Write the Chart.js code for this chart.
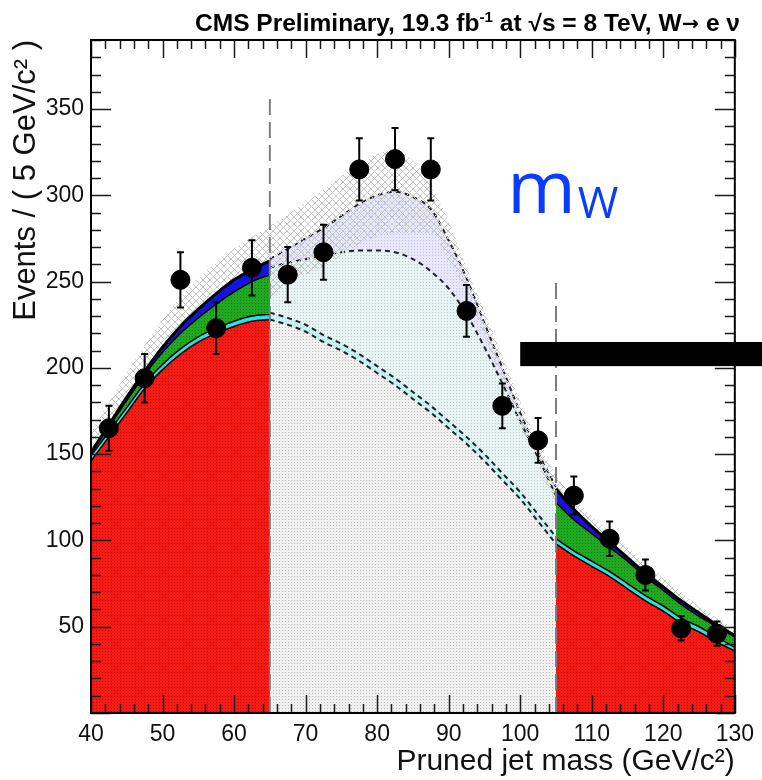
<!DOCTYPE html>
<html>
<head>
<meta charset="utf-8">
<script src="https://cdn.jsdelivr.net/npm/chart.js@4.4.1/dist/chart.umd.min.js"></script>
<style>
  html, body { margin: 0; padding: 0; background: #fff; }
</style>
</head>
<body>
<canvas id="massChart" width="762" height="780"></canvas>
<script>
// pruned jet mass grid (GeV/c^2) for the fitted shapes
const massLeft   = [40, 42.5, 45, 47.5, 50, 52.5, 55, 57.5, 60, 62.5, 65];
const massSignal = [65, 67.5, 70, 72.5, 75, 77.5, 80, 82.5, 85, 87.5, 90, 92.5, 95, 97.5, 100, 102.5, 105];
const massRight  = [105, 107.5, 110, 112.5, 115, 117.5, 120, 122.5, 125, 127.5, 130];
const massAll = [40, 42.5, 45, 47.5, 50, 52.5, 55, 57.5, 60, 62.5, 65, 67.5, 70, 72.5, 75, 77.5, 80, 82.5, 85,
                 87.5, 90, 92.5, 95, 97.5, 100, 102.5, 105, 107.5, 110, 112.5, 115, 117.5, 120, 122.5, 125, 127.5, 130];

// stacked fit components, sidebands (cumulative)
const wjetsLeft  = [146, 160, 174, 188, 199, 208, 215, 220, 224, 227, 228];
const stopLeft   = [149, 163, 177, 191, 202, 211, 218, 223, 227, 230, 231];
const ttbarLeft  = [150, 166, 181, 196, 209, 220, 229, 237, 244, 250, 254];
const totalLeft  = [151, 167, 183, 198, 212, 224, 234, 243, 251, 257, 262];

const wjetsRight = [98, 91, 85, 79, 72, 65, 59, 52, 47, 41, 36];
const stopRight  = [101, 94, 88, 82, 75, 68, 62, 55, 50, 44, 38];
const ttbarRight = [122, 112, 104, 96, 88, 79, 71, 63, 56, 50, 44];
const totalRight = [130, 118, 108, 99, 90, 81, 73, 65, 58, 51, 45];

// same components interpolated under the signal window (dashed)
const wjetsSignal = [228, 225, 221, 215, 210, 204, 197, 190, 182, 174, 165, 156, 146, 135, 124, 111, 98];
const stopSignal  = [232, 229, 225, 219, 214, 208, 201, 194, 186, 178, 169, 160, 150, 139, 128, 115, 102];
const ttbarSignal = [258, 261, 263, 265, 267, 268, 268, 267, 263, 256, 246, 231, 212, 191, 169, 148, 126];
const totalSignal = [263, 269, 275, 281, 288, 295, 300, 302, 299, 292, 274, 252, 226, 200, 174, 151, 131];

// fit uncertainty band
const bandHigh = [163, 180, 197, 213, 228, 241, 252, 261, 269, 276, 282, 289, 296, 303, 311, 318, 324, 326, 320,
                  306, 285, 258, 233, 207, 181, 157, 138, 125, 114, 105, 96, 86, 78, 70, 62, 55, 49];
const bandLow  = [139, 154, 169, 183, 196, 207, 216, 223, 231, 236, 240, 249, 254, 259, 265, 272, 276, 278, 278,
                  278, 262, 244, 218, 192, 166, 144, 122, 111, 102, 93, 84, 76, 68, 60, 54, 47, 41];

// data
const binCenters = [42.5, 47.5, 52.5, 57.5, 62.5, 67.5, 72.5, 77.5, 82.5, 87.5, 92.5, 97.5, 102.5, 107.5, 112.5, 117.5, 122.5, 127.5];
const eventsObs  = [165, 194, 251, 223, 258, 254, 267, 315, 321, 315, 233, 178, 158, 126, 101, 80, 49, 46];
const eventsErr  = [13, 14, 16, 15, 16, 16, 16, 18, 18, 18, 15, 13, 13, 11, 10, 9, 7, 7];

const xTicks = [40, 50, 60, 70, 80, 90, 100, 110, 120, 130];
const yTicks = [50, 100, 150, 200, 250, 300, 350];
const windowEdges = [65, 105];
const windowLineTop = [356, 252];

const canvas = document.getElementById('massChart');
const ctx0 = canvas.getContext('2d');

function dotPattern(bg, dot, step) {
    const c = document.createElement('canvas');
    c.width = step; c.height = step;
    const g = c.getContext('2d');
    g.fillStyle = bg;
    g.fillRect(0, 0, step, step);
    g.fillStyle = dot;
    g.fillRect(0, 0, 1, 1);
    return ctx0.createPattern(c, 'repeat');
}

function hatchPattern(color, size) {
    const c = document.createElement('canvas');
    c.width = size; c.height = size;
    const g = c.getContext('2d');
    g.strokeStyle = color;
    g.lineWidth = 1;
    g.beginPath();
    g.moveTo(0, 0); g.lineTo(size, size);
    g.moveTo(size, 0); g.lineTo(0, size);
    g.stroke();
    return ctx0.createPattern(c, 'repeat');
}

const toXY = (xs, ys) => xs.map((x, i) => ({x: x, y: ys[i]}));

function curve(xs, ys, fillColor, lineColor, width, order, dash) {
    return {
        type: 'line',
        data: toXY(xs, ys),
        backgroundColor: fillColor,
        borderColor: lineColor,
        borderWidth: width,
        borderDash: dash || [],
        fill: fillColor ? 'origin' : false,
        pointRadius: 0,
        cubicInterpolationMode: 'monotone',
        order: order
    };
}

const red = dotPattern('#f21c14', '#c80000', 3);
const green = dotPattern('#20a820', '#0e7e0e', 3);
const blue = '#1414e0';
const cyan = '#30e0e0';
const dash = [5, 4];

const datasets = [
    // signal window, faded components
    curve(massSignal, totalSignal, dotPattern('#e8e8fb', '#c0c0ec', 3), '#222', 2, 60, dash),
    curve(massSignal, ttbarSignal, dotPattern('#e8f4f4', '#b4cccc', 3), '#222', 2, 59, dash),
    curve(massSignal, stopSignal, dotPattern('#ccf4f4', '#94d8d8', 3), '#222', 2, 58, dash),
    curve(massSignal, wjetsSignal, dotPattern('#f0f0f0', '#b8b8b8', 3), '#222', 2, 57, dash),
    // uncertainty band
    {
        type: 'line', data: toXY(massAll, bandLow), borderWidth: 0, borderColor: 'rgba(0,0,0,0)',
        pointRadius: 0, fill: false, cubicInterpolationMode: 'monotone', order: 50
    },
    {
        type: 'line', data: toXY(massAll, bandHigh), borderWidth: 0, borderColor: 'rgba(0,0,0,0)',
        backgroundColor: hatchPattern('#c4c4c4', 7), pointRadius: 0, fill: '-1',
        cubicInterpolationMode: 'monotone', order: 49
    },
    // sidebands
    curve(massLeft, totalLeft, blue, '#000', 3, 40),
    curve(massLeft, ttbarLeft, green, '#000', 1.5, 39),
    curve(massLeft, stopLeft, cyan, '#000', 1.5, 38),
    curve(massLeft, wjetsLeft, red, '#000', 1.5, 37),
    curve(massRight, totalRight, blue, '#000', 3, 40),
    curve(massRight, ttbarRight, green, '#000', 1.5, 39),
    curve(massRight, stopRight, cyan, '#000', 1.5, 38),
    curve(massRight, wjetsRight, red, '#000', 1.5, 37)
];

windowEdges.forEach((m, i) => {
    datasets.push({
        type: 'line',
        data: [{x: m, y: 0}, {x: m, y: windowLineTop[i]}],
        borderColor: '#7d7d7d',
        borderWidth: 2,
        borderDash: [16, 7],
        pointRadius: 0,
        fill: false,
        order: 5
    });
});

datasets.push({
    type: 'line',
    data: toXY(binCenters, eventsObs),
    showLine: false,
    pointRadius: 9.5,
    pointBackgroundColor: '#000',
    pointBorderColor: '#000',
    order: 1
});

const decor = {
    id: 'decor',
    afterDatasetsDraw(chart) {
        const {ctx, scales: {x, y}} = chart;
        ctx.save();
        ctx.strokeStyle = '#000';
        ctx.lineWidth = 2;
        binCenters.forEach((m, i) => {
            const px = x.getPixelForValue(m);
            const y1 = y.getPixelForValue(eventsObs[i] - eventsErr[i]);
            const y2 = y.getPixelForValue(eventsObs[i] + eventsErr[i]);
            ctx.beginPath();
            ctx.moveTo(px, y1); ctx.lineTo(px, y2);
            ctx.moveTo(px - 3.5, y1); ctx.lineTo(px + 3.5, y1);
            ctx.moveTo(px - 3.5, y2); ctx.lineTo(px + 3.5, y2);
            ctx.stroke();
        });
        ctx.restore();
    },
    afterDraw(chart) {
        const {ctx, chartArea: a, scales: {x, y}} = chart;
        ctx.save();

        // ROOT style ticks inside the frame
        ctx.strokeStyle = '#1a1a1a';
        ctx.lineWidth = 1.5;
        ctx.beginPath();
        for (let v = 0; v <= y.max; v += 10) {
            const py = Math.round(y.getPixelForValue(v)) + 0.5;
            const len = v % 50 === 0 ? 20 : 10;
            ctx.moveTo(a.left, py); ctx.lineTo(a.left + len, py);
            ctx.moveTo(a.right, py); ctx.lineTo(a.right - len, py);
        }
        for (let v = x.min; v <= x.max; v += 2) {
            const px = Math.round(x.getPixelForValue(v)) + 0.5;
            const len = v % 10 === 0 ? 18 : 9;
            ctx.moveTo(px, a.bottom); ctx.lineTo(px, a.bottom - len);
            ctx.moveTo(px, a.top); ctx.lineTo(px, a.top + len);
        }
        ctx.stroke();

        ctx.lineWidth = 2;
        ctx.strokeStyle = '#000';
        ctx.strokeRect(a.left, a.top, a.right - a.left, a.bottom - a.top);

        // black bar
        const bx = x.getPixelForValue(100);
        const by1 = y.getPixelForValue(215);
        const by2 = y.getPixelForValue(201);
        ctx.fillStyle = '#000';
        ctx.fillRect(bx, by1, chart.width - bx, by2 - by1);

        // m_W label
        ctx.fillStyle = '#0a3cff';
        ctx.textBaseline = 'alphabetic';
        ctx.textAlign = 'left';
        ctx.font = "74px 'Open Sans'";
        const mx = x.getPixelForValue(98.2);
        const my = y.getPixelForValue(290);
        ctx.fillText('m', mx, my);
        const mw = ctx.measureText('m').width;
        ctx.font = "44px 'Open Sans'";
        ctx.fillText('W', mx + mw + 2, my + 5);

        // header: [text, raise, size factor, family]
        const narrow = "'Liberation Sans Narrow', 'Liberation Sans', sans-serif";
        const parts = [
            ['CMS Preliminary, 19.3 fb', 0, 1, narrow],
            ['-1', -9, 0.62, narrow],
            [' at \u221As = 8 TeV, W', 0, 1, narrow],
            ['\u2192', -1, 0.85, "'DejaVu Sans'"],
            [' e \u03bd', 0, 1, narrow]
        ];
        const base = 23;
        const fontOf = p => "bold " + (base * p[2]) + "px " + p[3];
        let total = 0;
        parts.forEach(p => { ctx.font = fontOf(p); total += ctx.measureText(p[0]).width; });
        const left = 195, right = 740;
        ctx.translate(left, 31);
        ctx.scale((right - left) / total, 1);
        ctx.fillStyle = '#000';
        let cx = 0;
        parts.forEach(p => {
            ctx.font = fontOf(p);
            ctx.fillText(p[0], cx, p[1]);
            cx += ctx.measureText(p[0]).width;
        });
        ctx.restore();
    }
};

const massChart = new Chart(canvas, {
    type: 'line',
    data: {datasets: datasets},
    plugins: [decor],
    options: {
        responsive: false,
        animation: false,
        layout: {padding: {top: 40, right: 21, left: 0, bottom: 0}},
        plugins: {
            legend: {display: false},
            tooltip: {enabled: false}
        },
        scales: {
            x: {
                type: 'linear',
                min: 40,
                max: 130,
                afterBuildTicks: axis => { axis.ticks = xTicks.map(v => ({value: v})); },
                afterFit: scale => { scale.height = 67; },
                grid: {display: false, drawTicks: false},
                border: {display: false},
                ticks: {
                    color: '#111',
                    padding: 8,
                    maxRotation: 0,
                    autoSkip: false,
                    font: {family: 'Liberation Sans', size: 23}
                },
                title: {
                    display: true,
                    text: 'Pruned jet mass (GeV/c\u00b2)',
                    align: 'end',
                    color: '#111',
                    padding: {top: 0, bottom: 0},
                    font: {family: 'Liberation Sans', size: 30}
                }
            },
            y: {
                type: 'linear',
                min: 0,
                max: 390,
                afterBuildTicks: axis => { axis.ticks = yTicks.map(v => ({value: v})); },
                afterFit: scale => { scale.width = 91; },
                grid: {display: false, drawTicks: false},
                border: {display: false},
                ticks: {
                    color: '#111',
                    padding: 7,
                    font: {family: 'Liberation Sans', size: 23}
                },
                title: {
                    display: true,
                    text: 'Events / ( 5 GeV/c\u00b2 )',
                    align: 'end',
                    color: '#111',
                    padding: {top: 8, bottom: 0},
                    font: {family: 'Liberation Sans', size: 31}
                }
            }
        }
    }
});
</script>
</body>
</html>
